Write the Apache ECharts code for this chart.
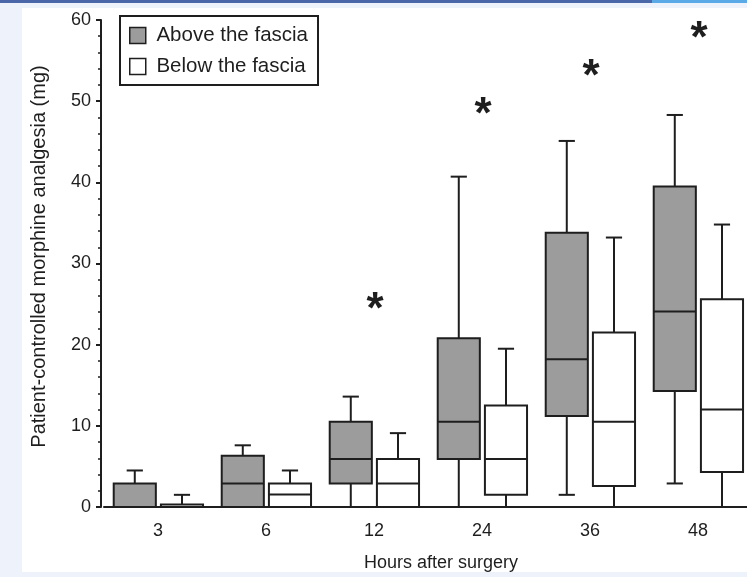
<!DOCTYPE html>
<html><head><meta charset="utf-8">
<script src="https://cdn.jsdelivr.net/npm/echarts@6/dist/echarts.min.js"></script>
<style>html,body{margin:0;padding:0;background:#fff;} #chart{width:747px;height:577px;}</style>
</head><body><div id="chart"></div>
<script>
// Hours after surgery
const categories = ['3', '6', '12', '24', '36', '48'];
// Above the fascia (grey boxes): min, Q1, median, Q3, max
const aboveMin    = [0,   0,   0,    0,    1.5,  2.9];
const aboveQ1     = [0,   0,   2.9,  5.9,  11.2, 14.3];
const aboveMedian = [0,   2.9, 5.9,  10.5, 18.2, 24.1];
const aboveQ3     = [2.9, 6.3, 10.5, 20.8, 33.8, 39.5];
const aboveMax    = [4.5, 7.6, 13.6, 40.7, 45.1, 48.3];
// Below the fascia (white boxes)
const belowMin    = [0,   0,    0,   0,    0,    0];
const belowQ1     = [0,   0,    0,   1.5,  2.6,  4.3];
const belowMedian = [0,   1.55, 2.9, 5.9,  10.5, 12.0];
const belowQ3     = [0.3, 2.9,  5.9, 12.5, 21.5, 25.6];
const belowMax    = [1.5, 4.5,  9.1, 19.5, 33.2, 34.8];
// significance markers
const starValues  = [null, null, 25.3, 49.3, 54.0, 58.7];
const yTicks = [0, 10, 20, 30, 40, 50, 60];

const INK = '#1e1e1e';
const GREY = '#9c9c9c';
const FONT = 'Liberation Sans, Arial, sans-serif';
const BOX_FRAC = 0.39, CAP_FRAC = 0.15;

function buildData(mn, q1, md, q3, mx) {
  return categories.map((c, i) => [i, mn[i], q1[i], md[i], q3[i], mx[i]]);
}

function makeBoxRender(offsetFrac, fill) {
  return function (params, api) {
    const idx = api.value(0);
    const bw = api.size([1, 0])[0];
    const cx = api.coord([idx, 0])[0] + offsetFrac * bw;
    const w = BOX_FRAC * bw;
    const cap = CAP_FRAC * bw;
    const y = k => api.coord([idx, api.value(k)])[1];
    const yMin = y(1), yQ1 = y(2), yMed = y(3), yQ3 = y(4), yMax = y(5);
    const ls = { stroke: INK, lineWidth: 2 };
    return {
      type: 'group',
      children: [
        { type: 'line', shape: { x1: cx, y1: yQ3, x2: cx, y2: yMax }, style: ls },
        { type: 'line', shape: { x1: cx - cap / 2, y1: yMax, x2: cx + cap / 2, y2: yMax }, style: ls },
        { type: 'line', shape: { x1: cx, y1: yQ1, x2: cx, y2: yMin }, style: ls },
        { type: 'line', shape: { x1: cx - cap / 2, y1: yMin, x2: cx + cap / 2, y2: yMin }, style: ls },
        { type: 'rect', shape: { x: cx - w / 2, y: yQ3, width: w, height: yQ1 - yQ3 }, style: { fill: fill, stroke: INK, lineWidth: 2 } },
        { type: 'line', shape: { x1: cx - w / 2, y1: yMed, x2: cx + w / 2, y2: yMed }, style: ls }
      ]
    };
  };
}

const chart = echarts.init(document.getElementById('chart'), null, { renderer: 'canvas' });
chart.setOption({
  backgroundColor: '#ffffff',
  animation: false,
  textStyle: { fontFamily: FONT },
  graphic: [
    { type: 'rect', shape: { x: 0, y: 0, width: 22, height: 577 }, style: { fill: '#eef3fb' }, z: -10 },
    { type: 'rect', shape: { x: 0, y: 0, width: 747, height: 8 }, style: { fill: '#eef3fb' }, z: -10 },
    { type: 'rect', shape: { x: 0, y: 572, width: 747, height: 5 }, style: { fill: '#eef3fb' }, z: -10 },
    { type: 'rect', shape: { x: 0, y: 0, width: 652, height: 3 }, style: { fill: '#4a68a8' }, z: -9 },
    { type: 'rect', shape: { x: 652, y: 0, width: 95, height: 3 }, style: { fill: '#5aaae8' }, z: -9 }
  ],
  legend: {
    left: 120, top: 16, orient: 'vertical',
    borderColor: INK, borderWidth: 2,
    padding: [9, 10, 8, 9],
    itemWidth: 16, itemHeight: 16, itemGap: 10,
    formatter: name => ' ' + name,
    textStyle: { fontSize: 20.5, color: INK, fontFamily: FONT },
    data: [
      { name: 'Above the fascia', icon: 'rect', itemStyle: { color: GREY, borderColor: INK, borderWidth: 1.5 } },
      { name: 'Below the fascia', icon: 'rect', itemStyle: { color: '#ffffff', borderColor: INK, borderWidth: 1.5 } }
    ]
  },
  grid: { left: 104, right: -5, top: 20, bottom: 70, containLabel: false, outerBoundsMode: 'none' },
  xAxis: {
    type: 'category', data: categories, boundaryGap: true,
    name: 'Hours after surgery', nameLocation: 'middle', nameGap: 47,
    nameTextStyle: { fontSize: 18, color: INK, fontFamily: FONT, padding: [0, 0, 0, 26] },
    axisLine: { lineStyle: { color: INK, width: 2 } },
    axisTick: { alignWithLabel: true, length: 4, lineStyle: { color: INK, width: 2 } },
    axisLabel: { fontSize: 18, color: INK, margin: 15, fontFamily: FONT },
    splitLine: { show: false }
  },
  yAxis: {
    type: 'value', min: 0, max: 60, interval: 10, offset: 3,
    name: 'Patient-controlled morphine analgesia (mg)', nameLocation: 'middle', nameGap: 52, nameRotate: 90,
    nameTextStyle: { fontSize: 20, color: INK, fontFamily: FONT, padding: [0, 0, 0, 14] },
    axisLine: { show: true, lineStyle: { color: INK, width: 2 } },
    axisTick: { show: true, length: 5, lineStyle: { color: INK, width: 2 } },
    minorTick: { show: true, splitNumber: 5, length: 3, lineStyle: { color: INK, width: 1.5 } },
    axisLabel: { fontSize: 18, color: INK, margin: 10, fontFamily: FONT,
      formatter: v => (yTicks.indexOf(v) >= 0 ? String(v) : '') },
    splitLine: { show: false }
  },
  series: [
    {
      name: 'Above the fascia', type: 'custom',
      itemStyle: { color: GREY, borderColor: INK },
      renderItem: makeBoxRender(-0.215, GREY),
      encode: { x: 0, y: [1, 2, 3, 4, 5] },
      data: buildData(aboveMin, aboveQ1, aboveMedian, aboveQ3, aboveMax)
    },
    {
      name: 'Below the fascia', type: 'custom',
      itemStyle: { color: '#ffffff', borderColor: INK },
      renderItem: makeBoxRender(0.222, '#ffffff'),
      encode: { x: 0, y: [1, 2, 3, 4, 5] },
      data: buildData(belowMin, belowQ1, belowMedian, belowQ3, belowMax)
    },
    {
      name: 'significance', type: 'custom',
      renderItem: function (params, api) {
        const p = api.coord([api.value(0), api.value(1)]);
        return { type: 'text', x: p[0] + 1, y: p[1] + 9,
          style: { text: '*', fill: INK, font: 'bold 44px ' + FONT, align: 'center', verticalAlign: 'middle' } };
      },
      encode: { x: 0, y: 1 },
      data: starValues.map((v, i) => (v === null ? null : [i, v])).filter(d => d)
    }
  ]
});
</script>
</body></html>
